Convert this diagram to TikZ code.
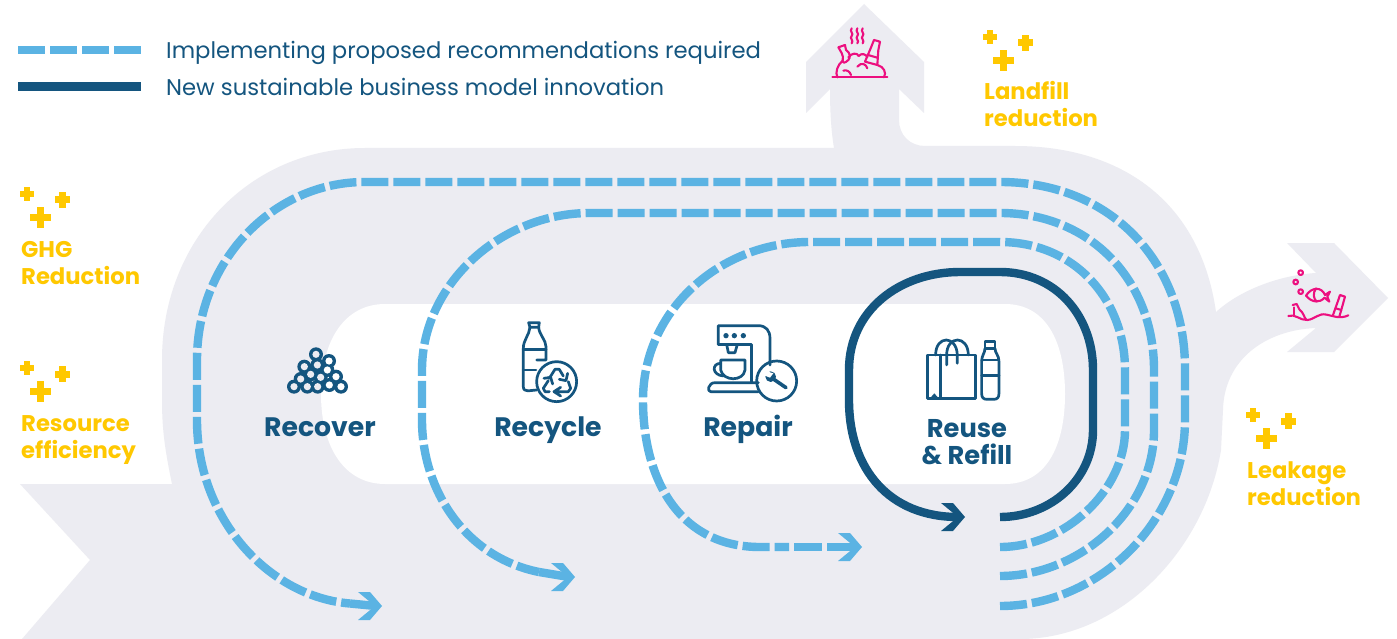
\documentclass[tikz,border=0pt]{standalone}
\usepackage{fontspec}
\setmainfont{Poppins}
\definecolor{band}{HTML}{ECECF2}
\definecolor{sky}{HTML}{5BB3E3}
\definecolor{navy}{HTML}{14557F}
\definecolor{gold}{HTML}{FFC800}
\definecolor{pink}{HTML}{EC0F7F}
\tikzset{
  dashline/.style={draw=sky,line width=8.4pt,dash pattern=on 27pt off 5pt},
  stubline/.style={draw=sky,line width=8.4pt},
  solidline/.style={draw=navy,line width=8.4pt},
  sketch/.style={draw=navy,line width=2.7pt,line join=round,line cap=round},
  litter/.style={draw=pink,line width=2.1pt,line join=round,line cap=round},
  legendtext/.style={anchor=base west,inner sep=0pt,text=navy,font=\fontsize{22.7}{27}\selectfont},
  stagetext/.style={inner sep=0pt,anchor=base,text=navy,font=\fontsize{26.7}{27}\selectfont\bfseries},
  stagetextB/.style={inner sep=0pt,text=navy,align=center,font=\fontsize{25.7}{27}\selectfont\bfseries},
  goaltext/.style={anchor=north west,inner sep=0pt,text=gold,align=left,font=\fontsize{22.7}{27}\selectfont\bfseries},
  zoomA/.style={shift={(#1)},x=0.3333pt,y=-0.3333pt},
}
\newcommand{\chevron}[2]{\fill[#1,shift={(#2)}] (-24,-14) -- (-12,-14) -- (0,0) -- (-12,14) -- (-24,14) -- (-7,0) -- cycle;}
\newcommand{\plusgroup}[2]{\begin{scope}[shift={(#1,#2)}]
\fill[gold] (-3.2,-7) rectangle (3.2,7); \fill[gold] (-7,-3.2) rectangle (7,3.2);
\fill[gold] (32,-2) rectangle (39,14); \fill[gold] (27.5,2.5) rectangle (43,9.5);
\fill[gold] (9.5,13) rectangle (16.5,34); \fill[gold] (3,20) rectangle (24,27);
\end{scope}}
\begin{document}
\begin{tikzpicture}[x=1pt,y=-1pt]
\useasboundingbox (0,0) rectangle (1397,639);
\fill[white] (0,0) rectangle (1397,639);
% grey band
\fill[band] (20,484) -- (172,484) .. controls (165,450) and (162,430) .. (162,400) -- (162,360)
  .. controls (162,240) and (250,148) .. (365,148) -- (834,148)
  .. controls (831,130) and (830,110) .. (830,89) -- (806,113) -- (806,62) -- (864,4) -- (924,62) -- (924,113) -- (899,89) -- (899,120)
  .. controls (899,135) and (910,146) .. (925,146) -- (1015,146)
  .. controls (1120,146) and (1200,200) .. (1216,312)
  .. controls (1240,290) and (1280,275) .. (1316,273) -- (1287,243) -- (1334,243) -- (1388,298) -- (1334,352) -- (1287,352) -- (1316,328)
  .. controls (1265,330) and (1224,360) .. (1223,410) -- (1221,450)
  .. controls (1205,550) and (1120,639) .. (1020,639) -- (22,639) -- (90,560) -- cycle;
% white centre
\fill[white] (385,304) -- (1005,304) .. controls (1045,304) and (1065,340) .. (1065,394)
  .. controls (1065,448) and (1045,484) .. (1005,484) -- (385,484)
  .. controls (345,484) and (321,448) .. (321,394) .. controls (321,340) and (345,304) .. (385,304) -- cycle;
% legend
\coordinate (lgA) at (18,50); \coordinate (lgB) at (141,50);
\coordinate (lgC) at (18,86.5); \coordinate (lgD) at (141,86.5);
\draw[dashline] (lgA) -- (lgB);
\draw[solidline] (lgC) -- (lgD);
\node[legendtext] (lgtxtA) at (166,59) {Implementing proposed recommendations required};
\node[legendtext] (lgtxtB) at (166,96) {New sustainable business model innovation};
% flow lines
\coordinate (aS) at (1000,606); \coordinate (aE) at (350,603.5); \coordinate (aT) at (376,606);
\coordinate (bS) at (1000,576); \coordinate (bE) at (539,572); \coordinate (bT) at (569,577);
\coordinate (cS) at (1000,547); \coordinate (cE) at (789,547); \coordinate (cG) at (794,547); \coordinate (cH) at (822,547); \coordinate (cF) at (827,547); \coordinate (cT) at (856,547);
\coordinate (dS) at (1000,517); \coordinate (dE) at (958,517);
\draw[dashline] (aS) .. controls (1100,606) and (1185,520) .. (1185,420) -- (1185,365)
  .. controls (1183,260) and (1110,182) .. (1000,182) -- (365,182)
  .. controls (272,182) and (197,262) .. (197,360) -- (197,420)
  .. controls (197,520) and (270,597) .. (aE);
\draw[stubline] (aE) -- (aT);
\draw[dashline] (bS) .. controls (1080,576) and (1154,510) .. (1154,430) -- (1154,370)
  .. controls (1154,280) and (1090,213) .. (1000,213) -- (590,213)
  .. controls (500,213) and (422,285) .. (422,370) -- (422,420)
  .. controls (422,490) and (465,557) .. (bE);
\draw[stubline] (bE) -- (bT);
\draw[dashline] (cS) .. controls (1065,547) and (1125,490) .. (1125,430) -- (1125,370)
  .. controls (1125,300) and (1075,242) .. (1000,242) -- (810,242)
  .. controls (720,242) and (643,310) .. (643,400)
  .. controls (643,480) and (680,547) .. (760,547) -- (cE);
\draw[stubline] (cG) -- (cH);
\draw[stubline] (cF) -- (cT);
\draw[solidline] (dS) .. controls (1050,517) and (1093,480) .. (1093,430) -- (1093,370)
  .. controls (1093,315) and (1055,272) .. (1000,272) -- (960,272)
  .. controls (900,272) and (849,310) .. (849,370) -- (849,400)
  .. controls (849,470) and (890,517) .. (dE);
\chevron{sky}{382,606}
\chevron{sky}{575,577}
\chevron{sky}{862,547}
\chevron{navy}{965,517}
% stage labels
\node[stagetext] (tRecover) at (320,436) {Recover};
\node[stagetext] (tRecycle) at (548,436) {Recycle};
\node[stagetext] (tRepair) at (748,436) {Repair};
\node[stagetextB] (tReuse) at (967,442) {Reuse\\\& Refill};
% goals
\plusgroup{27}{194}
\plusgroup{27}{368}
\plusgroup{990}{37}
\plusgroup{1253}{415}
\node[goaltext] (gGHG) at (21,241) {GHG\\Reduction};
\node[goaltext] (gRes) at (21,415) {Resource\\efficiency};
\node[goaltext] (gLand) at (984,81) {Landfill\\reduction};
\node[goaltext] (gLeak) at (1247,461) {Leakage\\reduction};
% recover icon
\foreach \a/\b in {138/133,103/170,142/165,177/153,122/193,172/180,92/207,152/202,198/200,72/230,112/230,143/230,178/225,213/230}{
  \pgfmathsetmacro{\xx}{270+\a/3}\pgfmathsetmacro{\yy}{310+\b/3}
  \fill[navy] (\xx,\yy) circle[radius=7];
}
\foreach \a/\b in {138/133,103/170,142/165,177/153,122/193,172/180,92/207,152/202,198/200,72/230,112/230,143/230,178/225,213/230}{
  \pgfmathsetmacro{\xx}{270+\a/3}\pgfmathsetmacro{\yy}{310+\b/3}
  \pgfmathparse{\xx<321?1:0}
  \ifnum\pgfmathresult=1 \fill[band] (\xx,\yy) circle[radius=3.6];\else\fill[white] (\xx,\yy) circle[radius=3.6];\fi
}
% recycle icon
\begin{scope}[zoomA={270,310}]
\draw[sketch] (800,150) -- (828,150) (828,150) -- (828,110) .. controls (828,90) and (808,75) .. (806,52) -- (780,52) .. controls (778,75) and (760,90) .. (760,115) -- (760,230) .. controls (760,250) and (785,240) .. (800,240);
\draw[sketch] (780,52) -- (776,38) -- (808,38) -- (806,52);
\draw[sketch] (760,118) -- (828,118) (760,180) -- (798,180);
\draw[sketch] (860,215) circle[radius=60];
\draw[sketch] (838,205) -- (855,178) -- (868,178) -- (880,198) (893,190) -- (888,212) -- (868,208);
\draw[sketch] (895,215) -- (902,235) -- (895,245) -- (860,245) (872,232) -- (852,245) -- (872,258);
\draw[sketch] (838,245) -- (825,245) -- (820,235) -- (835,212) (822,205) -- (842,202) -- (848,222);
\end{scope}
% repair icon
\begin{scope}[zoomA={690,310}]
\draw[sketch] (85,103) -- (85,47) -- (205,47) .. controls (228,47) and (240,62) .. (240,85) -- (240,165);
\draw[sketch] (85,103) -- (185,103) -- (185,215);
\fill[navy] (108,77) circle[radius=8] (133,77) circle[radius=8] (160,77) circle[radius=8];
\draw[sketch] (110,103) -- (115,128) -- (135,128) -- (142,103);
\draw[sketch] (92,150) -- (165,150) -- (165,180) .. controls (160,215) and (100,215) .. (92,180) -- cycle;
\draw[sketch] (92,160) .. controls (65,160) and (65,195) .. (100,198);
\draw[sketch] (205,218) -- (75,218) .. controls (55,218) and (50,245) .. (62,245) -- (205,245);
\draw[sketch] (260,213) circle[radius=60];
\draw[navy,line width=3.6pt,line cap=round] (250,207) -- (288,233);
\fill[navy] (242,200) circle[radius=16];
\fill[white] (224,182) -- (250,190) -- (240,203) -- (222,196) -- cycle;
\end{scope}
% reuse icon
\begin{scope}[zoomA={690,310}]
\draw[sketch] (713,135) rectangle (857,265);
\draw[sketch] (752,135) -- (752,265);
\fill[navy] (720,265) -- (733,250) -- (746,265) -- cycle;
\draw[sketch] (737,135) .. controls (737,75) and (800,75) .. (802,135) -- (802,160);
\draw[sketch] (770,165) -- (770,135) .. controls (770,75) and (835,75) .. (835,135);
\draw[sketch] (885,95) rectangle (915,115);
\draw[sketch] (885,115) .. controls (885,130) and (875,135) .. (875,155) -- (875,250) .. controls (875,262) and (880,268) .. (890,268) -- (912,268) .. controls (922,268) and (927,262) .. (927,250) -- (927,155) .. controls (927,135) and (915,130) .. (915,115);
\draw[sketch] (875,150) -- (927,150) (875,197) -- (927,197);
\end{scope}
% landfill icon
\begin{scope}[zoomA={780,0}]
\draw[litter] (157,232) -- (322,232);
\foreach \x in {215,232,248}
  \draw[litter] (\x,85) .. controls (\x-8,95) and (\x+8,100) .. (\x,108) .. controls (\x-8,115) and (\x+8,122) .. (\x,130);
\draw[litter] (175,142) -- (195,135) -- (198,150) .. controls (212,160) and (212,172) .. (205,180) .. controls (195,190) and (188,190) .. (188,182) .. controls (192,165) and (182,155) .. (175,142);
\draw[litter] (205,172) .. controls (215,158) and (232,158) .. (236,168) .. controls (245,158) and (258,162) .. (262,172);
\draw[litter] (232,200) .. controls (245,185) and (258,192) .. (262,205);
\draw[litter] (188,182) .. controls (172,195) and (165,218) .. (172,232);
\draw[litter] (190,212) .. controls (200,208) and (210,215) .. (213,225);
\draw[litter] (255,185) -- (272,145) -- (282,120) -- (300,125) -- (295,150) -- (292,195) -- cycle (264,165) -- (292,173);
\draw[litter] (292,195) .. controls (312,200) and (320,218) .. (312,232);
\end{scope}
% leakage icon
\begin{scope}[zoomA={1180,230}]
\draw[litter] (325,258) .. controls (345,250) and (360,272) .. (382,270) .. controls (405,268) and (415,248) .. (440,254) .. controls (460,258) and (480,268) .. (505,256);
\draw[litter] (362,128) circle[radius=7] (347,156) circle[radius=7] (362,185) circle[radius=7];
\draw[litter] (378,197) .. controls (395,170) and (425,170) .. (435,195) -- (450,185) -- (442,200) -- (448,215) -- (433,203) .. controls (420,220) and (395,218) .. (378,197) -- cycle;
\draw[litter] (408,175) .. controls (398,190) and (400,205) .. (410,215);
\draw[litter] (338,225) -- (350,222) -- (358,238) .. controls (372,250) and (372,262) .. (378,268);
\draw[litter] (342,232) -- (342,256);
\draw[litter] (458,258) -- (475,210) -- (480,195) -- (495,200) -- (490,218) -- (478,260);
\draw[litter] (467,235) -- (484,240);
\end{scope}
\end{tikzpicture}
\end{document}
